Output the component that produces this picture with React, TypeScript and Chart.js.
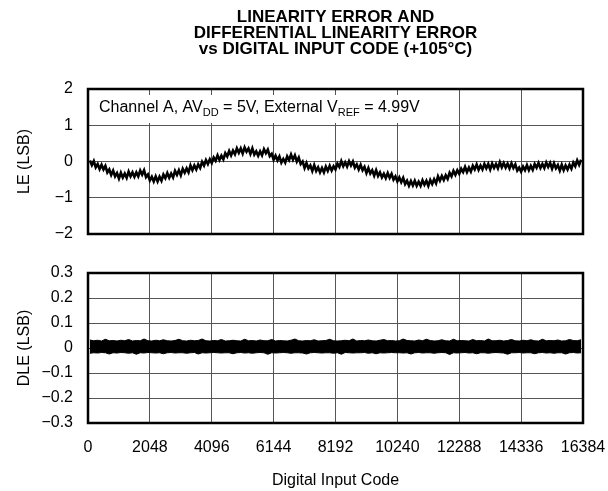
import { useEffect, useRef } from 'react';
import { Chart, registerables } from 'chart.js';

Chart.register(...registerables);

const FONT = '"Liberation Sans", Arial, Helvetica, sans-serif';

const TITLE_LINES = [
  'LINEARITY ERROR AND',
  'DIFFERENTIAL LINEARITY ERROR',
  'vs DIGITAL INPUT CODE (+105°C)',
];
const LE_AXIS_TITLE = 'LE (LSB)';
const DLE_AXIS_TITLE = 'DLE (LSB)';
const X_AXIS_TITLE = 'Digital Input Code';

const X_TICKS = ['0', '2048', '4096', '6144', '8192', '10240', '12288', '14336', '16384'];
const LE_TICKS = ['\u22122', '\u22121', '0', '1', '2'];
const DLE_TICKS = ['\u22120.3', '\u22120.2', '\u22120.1', '0', '0.1', '0.2', '0.3'];

const ANNOTATION = [
  { text: 'Channel A, AV', sub: false },
  { text: 'DD', sub: true },
  { text: ' = 5V, External V', sub: false },
  { text: 'REF', sub: true },
  { text: ' = 4.99V', sub: false },
];

// LE samples: first code and spacing of codes
const LE_CODE_START = 64;
const LE_CODE_STEP = 64;
const LE_VALUES = [
  0.03, -0.10, 0.01, -0.16, -0.07, -0.21, -0.09, -0.22, -0.12, -0.30, -0.22, -0.37, -0.25, -0.41, -0.32, -0.47,
  -0.31, -0.44, -0.33, -0.45, -0.28, -0.41, -0.30, -0.42, -0.30, -0.41, -0.25, -0.36, -0.24, -0.43, -0.36, -0.52,
  -0.42, -0.55, -0.41, -0.55, -0.42, -0.53, -0.36, -0.46, -0.32, -0.45, -0.33, -0.44, -0.26, -0.37, -0.24, -0.38,
  -0.20, -0.31, -0.19, -0.30, -0.11, -0.24, -0.11, -0.22, -0.08, -0.18, -0.01, -0.11, 0.04, -0.07, 0.06, -0.04,
  0.11, 0.02, 0.17, 0.04, 0.16, 0.06, 0.23, 0.14, 0.29, 0.17, 0.30, 0.20, 0.36, 0.24, 0.36, 0.22,
  0.39, 0.27, 0.36, 0.21, 0.36, 0.19, 0.28, 0.16, 0.28, 0.17, 0.34, 0.23, 0.33, 0.15, 0.21, 0.05,
  0.16, 0.03, 0.14, -0.03, 0.07, -0.03, 0.14, 0.04, 0.19, 0.05, 0.17, 0.00, 0.11, -0.07, 0.00, -0.18,
  -0.04, -0.19, -0.11, -0.26, -0.10, -0.26, -0.16, -0.30, -0.18, -0.30, -0.14, -0.26, -0.12, -0.25, -0.13, -0.22,
  -0.06, -0.15, 0.01, -0.13, -0.02, -0.14, 0.01, -0.11, 0.00, -0.17, -0.08, -0.22, -0.09, -0.24, -0.15, -0.32,
  -0.18, -0.33, -0.24, -0.39, -0.24, -0.40, -0.30, -0.44, -0.34, -0.46, -0.32, -0.45, -0.34, -0.50, -0.41, -0.55,
  -0.44, -0.57, -0.45, -0.62, -0.53, -0.67, -0.54, -0.66, -0.53, -0.67, -0.56, -0.67, -0.52, -0.64, -0.53, -0.67,
  -0.51, -0.62, -0.49, -0.60, -0.41, -0.53, -0.40, -0.51, -0.38, -0.48, -0.31, -0.41, -0.26, -0.37, -0.24, -0.34,
  -0.20, -0.29, -0.15, -0.29, -0.17, -0.28, -0.12, -0.22, -0.08, -0.23, -0.11, -0.22, -0.07, -0.19, -0.07, -0.22,
  -0.06, -0.18, -0.07, -0.19, -0.02, -0.16, -0.04, -0.17, -0.06, -0.19, -0.05, -0.18, -0.08, -0.25, -0.17, -0.28,
  -0.14, -0.24, -0.10, -0.24, -0.12, -0.23, -0.07, -0.17, -0.04, -0.18, -0.07, -0.18, -0.03, -0.15, -0.04, -0.20,
  -0.05, -0.19, -0.10, -0.25, -0.09, -0.24, -0.11, -0.22, -0.09, -0.20, -0.03, -0.13, 0.03, -0.09, 0.05,
];

// DLE envelope samples (upper and lower edge of the dense trace)
const DLE_CODE_START = 64;
const DLE_CODE_STEP = 128;
const DLE_UPPER = [
  0.032, 0.029, 0.031, 0.028, 0.035, 0.029, 0.030, 0.028, 0.031, 0.029, 0.034, 0.028, 0.030, 0.029, 0.036, 0.029,
  0.028, 0.031, 0.029, 0.033, 0.029, 0.028, 0.030, 0.035, 0.029, 0.028, 0.031, 0.029, 0.030, 0.036, 0.029, 0.028,
  0.030, 0.029, 0.034, 0.028, 0.029, 0.031, 0.029, 0.028, 0.035, 0.029, 0.030, 0.028, 0.032, 0.029, 0.029, 0.034,
  0.028, 0.030, 0.029, 0.028, 0.031, 0.036, 0.029, 0.028, 0.030, 0.029, 0.033, 0.028, 0.029, 0.030, 0.035, 0.029,
  0.028, 0.029, 0.031, 0.029, 0.036, 0.028, 0.030, 0.029, 0.032, 0.029, 0.028, 0.031, 0.034, 0.029, 0.030, 0.028,
  0.029, 0.036, 0.030, 0.029, 0.028, 0.032, 0.029, 0.035, 0.030, 0.028, 0.029, 0.033, 0.029, 0.028, 0.035, 0.029,
  0.030, 0.029, 0.028, 0.034, 0.029, 0.030, 0.028, 0.036, 0.029, 0.029, 0.031, 0.028, 0.030, 0.034, 0.029, 0.028,
  0.031, 0.029, 0.033, 0.029, 0.028, 0.035, 0.029, 0.030, 0.029, 0.032, 0.028, 0.029, 0.034, 0.030, 0.029, 0.033,
];
const DLE_LOWER = [
  -0.021, -0.019, -0.020, -0.018, -0.019, -0.024, -0.019, -0.020, -0.018, -0.019, -0.021, -0.019, -0.025, -0.019, -0.020, -0.018,
  -0.019, -0.020, -0.019, -0.023, -0.019, -0.018, -0.020, -0.019, -0.019, -0.021, -0.019, -0.018, -0.024, -0.019, -0.020, -0.019,
  -0.018, -0.019, -0.020, -0.019, -0.019, -0.023, -0.019, -0.018, -0.020, -0.019, -0.021, -0.019, -0.018, -0.019, -0.025, -0.019,
  -0.020, -0.019, -0.018, -0.019, -0.021, -0.019, -0.019, -0.020, -0.024, -0.019, -0.018, -0.019, -0.020, -0.019, -0.019, -0.021,
  -0.019, -0.025, -0.018, -0.019, -0.020, -0.019, -0.019, -0.018, -0.021, -0.019, -0.023, -0.019, -0.020, -0.019, -0.018, -0.019,
  -0.019, -0.020, -0.019, -0.024, -0.019, -0.018, -0.020, -0.019, -0.019, -0.021, -0.019, -0.018, -0.019, -0.026, -0.019, -0.020,
  -0.019, -0.018, -0.020, -0.019, -0.023, -0.019, -0.019, -0.021, -0.019, -0.018, -0.019, -0.020, -0.025, -0.019, -0.019, -0.018,
  -0.020, -0.019, -0.019, -0.023, -0.019, -0.018, -0.020, -0.019, -0.021, -0.019, -0.019, -0.024, -0.019, -0.018, -0.020, -0.019,
];

const GRID_COLOR = '#555555';

const framePlugin = {
  id: 'frame',
  afterDatasetsDraw(chart: any) {
    const { ctx, chartArea: a } = chart;
    ctx.save();
    ctx.strokeStyle = '#000';
    ctx.lineWidth = 2.5;
    ctx.strokeRect(a.left, a.top, a.right - a.left, a.bottom - a.top);
    ctx.restore();
  },
};

const annotationPlugin = {
  id: 'annot',
  beforeDatasetsDraw(chart: any) {
    const { ctx, chartArea: a } = chart;
    const mainFont = `16px ${FONT}`;
    const subFont = `11px ${FONT}`;
    ctx.save();
    let w = 0;
    for (const p of ANNOTATION) {
      ctx.font = p.sub ? subFont : mainFont;
      w += ctx.measureText(p.text).width;
    }
    const x0 = a.left + 11;
    const base = a.top + 23;
    ctx.fillStyle = '#fff';
    ctx.fillRect(x0 - 7, a.top + 6, w + 14, 28);
    ctx.fillStyle = '#000';
    ctx.textBaseline = 'alphabetic';
    let x = x0;
    for (const p of ANNOTATION) {
      ctx.font = p.sub ? subFont : mainFont;
      ctx.fillText(p.text, x, p.sub ? base + 4 : base);
      x += ctx.measureText(p.text).width;
    }
    ctx.restore();
  },
};

function xScale(showLabels: boolean, height: number) {
  return {
    type: 'linear' as const,
    min: 0,
    max: 16384,
    afterFit: (s: any) => {
      s.height = height;
      s.paddingLeft = 0;
      s.paddingRight = 0;
    },
    grid: { color: GRID_COLOR, lineWidth: 1, drawTicks: false },
    border: { display: false },
    ticks: {
      display: showLabels,
      stepSize: 2048,
      padding: 15,
      color: '#000',
      font: { family: FONT, size: 16 },
      maxRotation: 0,
      autoSkip: false,
      callback: (_v: any, i: number) => X_TICKS[i],
    },
    title: showLabels
      ? {
          display: true,
          text: X_AXIS_TITLE,
          color: '#000',
          font: { family: FONT, size: 16 },
          padding: { top: 0, bottom: 1 },
        }
      : { display: false },
  };
}

function yScale(min: number, max: number, step: number, labels: string[], title: string) {
  return {
    type: 'linear' as const,
    min,
    max,
    afterFit: (s: any) => {
      s.width = 88;
      s.paddingTop = 0;
      s.paddingBottom = 0;
    },
    grid: { color: GRID_COLOR, lineWidth: 1, drawTicks: false },
    border: { display: false },
    ticks: {
      stepSize: step,
      padding: 15,
      color: '#000',
      font: { family: FONT, size: 16 },
      autoSkip: false,
      callback: (_v: any, i: number) => labels[i],
    },
    title: {
      display: true,
      text: title,
      color: '#000',
      font: { family: FONT, size: 16 },
      padding: { top: 15, bottom: 0 },
    },
  };
}

export default function App() {
  const topRef = useRef<HTMLCanvasElement>(null);
  const botRef = useRef<HTMLCanvasElement>(null);

  useEffect(() => {
    const leData = LE_VALUES.map((v, i) => ({ x: LE_CODE_START + i * LE_CODE_STEP, y: v }));
    const upData = DLE_UPPER.map((v, i) => ({ x: DLE_CODE_START + i * DLE_CODE_STEP, y: v }));
    const loData = DLE_LOWER.map((v, i) => ({ x: DLE_CODE_START + i * DLE_CODE_STEP, y: v }));

    const top = new Chart(topRef.current!, {
      type: 'line',
      data: {
        datasets: [
          {
            data: leData,
            borderColor: '#000',
            borderWidth: 2.6,
            pointRadius: 0,
            tension: 0,
            fill: false,
          },
        ],
      },
      options: {
        responsive: false,
        animation: false,
        devicePixelRatio: 1,
        layout: { padding: { left: 0, right: 25, top: 0, bottom: 0 } },
        plugins: {
          legend: { display: false },
          tooltip: { enabled: false },
          title: {
            display: true,
            fullSize: false,
            text: TITLE_LINES,
            color: '#000',
            font: { family: FONT, size: 17, weight: 'bold', lineHeight: 16 / 17 },
            padding: { top: 9, bottom: 32 },
          },
        },
        scales: {
          x: xScale(false, 16),
          y: yScale(-2, 2, 1, LE_TICKS, LE_AXIS_TITLE),
        },
      } as any,
      plugins: [annotationPlugin, framePlugin],
    });

    const bot = new Chart(botRef.current!, {
      type: 'line',
      data: {
        datasets: [
          {
            data: upData,
            borderColor: '#000',
            backgroundColor: '#000',
            borderWidth: 1,
            pointRadius: 0,
            tension: 0,
            fill: '+1',
          },
          {
            data: loData,
            borderColor: '#000',
            borderWidth: 1,
            pointRadius: 0,
            tension: 0,
            fill: false,
          },
        ],
      },
      options: {
        responsive: false,
        animation: false,
        devicePixelRatio: 1,
        layout: { padding: { left: 0, right: 25, top: 23, bottom: 0 } },
        plugins: {
          legend: { display: false },
          tooltip: { enabled: false },
          title: { display: false },
        },
        scales: {
          x: xScale(true, 68),
          y: yScale(-0.3, 0.3, 0.1, DLE_TICKS, DLE_AXIS_TITLE),
        },
      } as any,
      plugins: [framePlugin],
    });

    return () => {
      top.destroy();
      bot.destroy();
    };
  }, []);

  return (
    <div style={{ position: 'absolute', left: 0, top: 0, width: 608, height: 491, background: '#fff' }}>
      <canvas ref={topRef} width={608} height={250} style={{ position: 'absolute', left: 0, top: 0 }} />
      <canvas ref={botRef} width={608} height={241} style={{ position: 'absolute', left: 0, top: 250 }} />
    </div>
  );
}
